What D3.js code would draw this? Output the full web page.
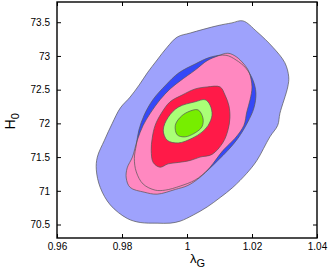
<!DOCTYPE html>
<html>
<head>
<meta charset="utf-8">
<script src="https://cdn.jsdelivr.net/npm/d3@7"></script>
<style>
  body { margin: 0; background: #fff; }
  svg { display: block; font-family: "Liberation Sans", Arial, sans-serif; }
</style>
</head>
<body>
<div id="chart"></div>
<script>
// contour outlines, [lambda_G, H0]
const blueOuter = [
  [1.0172, 73.52], [1.0215, 73.36], [1.0264, 73.13], [1.0301, 72.90], [1.0313, 72.69],
  [1.0310, 72.54], [1.0286, 72.15], [1.0279, 71.97], [1.0255, 71.80], [1.0215, 71.45],
  [1.0184, 71.26], [1.0141, 71.05], [1.0102, 70.90], [1.0062, 70.76], [1.0019, 70.64],
  [0.9979, 70.55], [0.9948, 70.52], [0.9908, 70.52], [0.9856, 70.53], [0.9816, 70.59],
  [0.9764, 70.79], [0.9733, 71.05], [0.9721, 71.31], [0.9724, 71.50], [0.9746, 71.75],
  [0.9770, 72.00], [0.9795, 72.23], [0.9825, 72.39], [0.9853, 72.57], [0.9878, 72.75],
  [0.9908, 72.94], [0.9939, 73.13], [0.9970, 73.28], [1.0010, 73.34], [1.0095, 73.45],
  [1.0138, 73.49]
]
const blueInner = [
  [1.0120, 73.01], [1.0151, 72.94], [1.0181, 72.82], [1.0203, 72.64], [1.0212, 72.45],
  [1.0206, 72.23], [1.0187, 72.02], [1.0157, 71.78], [1.0126, 71.60], [1.0095, 71.45],
  [1.0065, 71.31], [1.0025, 71.16], [0.9979, 71.07], [0.9933, 71.01], [0.9902, 71.01],
  [0.9865, 71.10], [0.9844, 71.28], [0.9838, 71.48], [0.9844, 71.68], [0.9852, 71.90],
  [0.9868, 72.12], [0.9895, 72.35], [0.9935, 72.57], [0.9975, 72.75], [1.0025, 72.88],
  [1.0071, 72.98]
]
const pinkOuter = [
  [1.0126, 73.04], [1.0151, 72.99], [1.0175, 72.88], [1.0191, 72.76], [1.0200, 72.54],
  [1.0194, 72.35], [1.0184, 72.17], [1.0175, 71.97], [1.0148, 71.78], [1.0111, 71.60],
  [1.0071, 71.35], [1.0040, 71.20], [1.0003, 71.08], [0.9964, 71.02], [0.9908, 70.95],
  [0.9868, 70.98], [0.9825, 71.05], [0.9813, 71.19], [0.9816, 71.34], [0.9832, 71.50],
  [0.9847, 71.75], [0.9865, 71.97], [0.9887, 72.15], [0.9917, 72.35], [0.9948, 72.51],
  [0.9979, 72.63], [1.0025, 72.79], [1.0062, 72.93], [1.0095, 73.00]
]
const redInner = [
  [1.0102, 72.54], [1.0117, 72.42], [1.0129, 72.26], [1.0132, 72.08], [1.0126, 71.90],
  [1.0111, 71.72], [1.0077, 71.54], [1.0040, 71.50], [1.0010, 71.45], [0.9973, 71.42],
  [0.9942, 71.40], [0.9917, 71.35], [0.9896, 71.42], [0.9890, 71.60], [0.9893, 71.78],
  [0.9902, 71.97], [0.9921, 72.15], [0.9948, 72.32], [0.9985, 72.42], [1.0025, 72.51],
  [1.0062, 72.54]
]
const greenOuter = [
  [1.0056, 72.35], [1.0025, 72.32], [0.9973, 72.24], [0.9942, 72.09], [0.9927, 71.90],
  [0.9939, 71.75], [0.9973, 71.71], [1.0016, 71.78], [1.0046, 71.87], [1.0065, 71.97],
  [1.0077, 72.12], [1.0071, 72.27]
]
const greenInner = [
  [1.0034, 72.20], [1.0003, 72.17], [0.9979, 72.09], [0.9964, 71.97], [0.9970, 71.83],
  [0.9994, 71.80], [1.0025, 71.86], [1.0046, 71.95], [1.0049, 72.08]
]

const xTicks = [0.96, 0.98, 1.00, 1.02, 1.04]
const yTicks = [70.5, 71, 71.5, 72, 72.5, 73, 73.5]

const layers = [
  { pts: blueOuter, fill: "#9ea2fc" },
  { pts: blueInner, fill: "#3548f7" },
  { pts: pinkOuter, fill: "#ff88c0" },
  { pts: redInner, fill: "#ff1a48" },
  { pts: greenOuter, fill: "#aaff77" },
  { pts: greenInner, fill: "#77ee00" }
]

const width = 332, height = 270
const margin = { top: 2, right: 15, bottom: 32, left: 57 }

const svg = d3.select("#chart").append("svg")
  .attr("width", width)
  .attr("height", height)

const x = d3.scaleLinear()
  .domain([0.96, 1.04])
  .range([margin.left, width - margin.right])
const y = d3.scaleLinear()
  .domain([70.3, 73.8])
  .range([height - margin.bottom, margin.top])

const line = d3.line()
  .x(d => x(d[0]))
  .y(d => y(d[1]))
  .curve(d3.curveCatmullRomClosed.alpha(0.5))

// fills first, then every outline on top
svg.selectAll(".fill")
  .data(layers)
  .enter().append("path")
  .attr("class", "fill")
  .attr("d", d => line(d.pts))
  .attr("fill", d => d.fill)
  .attr("stroke", "none")

svg.selectAll(".edge")
  .data(layers)
  .enter().append("path")
  .attr("class", "edge")
  .attr("d", d => line(d.pts))
  .attr("fill", "none")
  .attr("stroke", "#555")
  .attr("stroke-width", 0.7)

const fmt = d => d3.format("~g")(d)

svg.append("g")
  .attr("transform", `translate(0,${height - margin.bottom})`)
  .call(d3.axisBottom(x).tickValues(xTicks).tickSize(-4).tickPadding(5).tickFormat(fmt))
svg.append("g")
  .attr("transform", `translate(0,${margin.top})`)
  .call(d3.axisTop(x).tickValues(xTicks).tickSize(-4).tickFormat(""))
svg.append("g")
  .attr("transform", `translate(${margin.left},0)`)
  .call(d3.axisLeft(y).tickValues(yTicks).tickSize(-4).tickPadding(7).tickFormat(fmt))
svg.append("g")
  .attr("transform", `translate(${width - margin.right},0)`)
  .call(d3.axisRight(y).tickValues(yTicks).tickSize(-4).tickFormat(""))

svg.selectAll(".domain").remove()
svg.selectAll(".tick line").attr("stroke", "#000").attr("stroke-width", 1)
svg.selectAll(".tick text")
  .attr("fill", "#000")
  .style("font-size", "10px")
  .style("font-family", "'Liberation Sans', Arial, sans-serif")

svg.append("rect")
  .attr("x", margin.left)
  .attr("y", margin.top)
  .attr("width", width - margin.left - margin.right)
  .attr("height", height - margin.top - margin.bottom)
  .attr("fill", "none")
  .attr("stroke", "#000")
  .attr("stroke-width", 1.4)

// axis labels
const xl = svg.append("text")
  .attr("x", x(1.0) + 3)
  .attr("y", 263)
  .style("font-size", "13px")
xl.append("tspan").text("λ")
xl.append("tspan").attr("dy", 4).style("font-size", "11px").text("G")

const yl = svg.append("text")
  .attr("transform", `translate(15,${y(72) - 2}) rotate(-90)`)
  .attr("text-anchor", "middle")
  .style("font-size", "14px")
yl.append("tspan").text("H")
yl.append("tspan").attr("dy", 4).style("font-size", "11px").text("0")
</script>
</body>
</html>
